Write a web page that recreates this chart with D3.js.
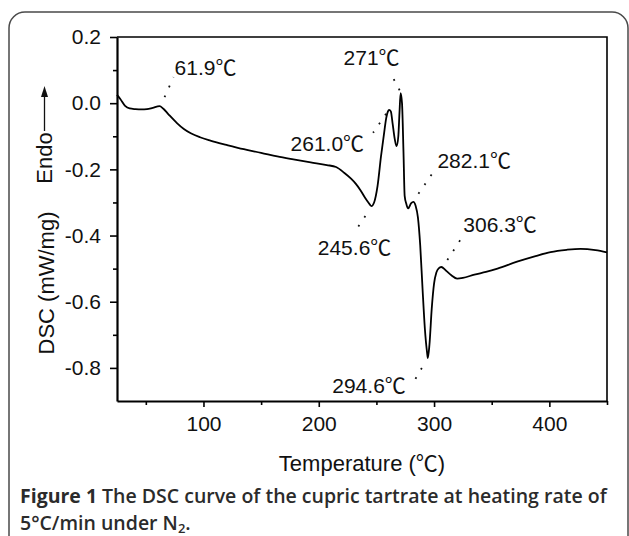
<!DOCTYPE html>
<html>
<head>
<meta charset="utf-8">
<script src="https://cdn.jsdelivr.net/npm/d3@7"></script>
<style>
body { margin: 0; background: #fff; }
svg { display: block; }
</style>
</head>
<body>
<svg id="container" width="629" height="536"></svg>
<script>
// DSC curve: temperature (C) and heat flow (mW/mg)
var temperature = [25, 28, 32, 36, 41, 46, 51, 56, 61.9, 65, 70, 77, 83, 89, 97, 106, 120, 135, 150, 164, 178, 193, 207, 215, 222, 228, 232, 236, 240, 243, 245.6, 248, 251, 254, 256.5, 258.5, 260, 261, 262.5, 264, 266, 267.5, 269, 270, 271, 272.2, 273.5, 274.5, 276, 277.5, 280, 282.1, 284, 286, 288, 290, 292, 294, 294.6, 296, 298, 300, 302, 304, 306.3, 310, 315, 320, 325, 335, 345, 355, 372, 388, 401, 415, 427, 440, 450];
var dscValue = [0.025, 0.012, -0.008, -0.016, -0.018, -0.019, -0.018, -0.014, -0.009, -0.016, -0.035, -0.060, -0.078, -0.091, -0.103, -0.113, -0.126, -0.139, -0.150, -0.161, -0.170, -0.179, -0.187, -0.193, -0.210, -0.228, -0.243, -0.262, -0.285, -0.300, -0.311, -0.300, -0.250, -0.160, -0.095, -0.045, -0.025, -0.020, -0.025, -0.060, -0.110, -0.130, -0.100, -0.030, 0.030, 0.000, -0.150, -0.280, -0.305, -0.318, -0.303, -0.298, -0.310, -0.345, -0.430, -0.560, -0.680, -0.755, -0.770, -0.730, -0.620, -0.545, -0.512, -0.499, -0.495, -0.505, -0.520, -0.530, -0.528, -0.518, -0.510, -0.500, -0.479, -0.462, -0.450, -0.443, -0.440, -0.444, -0.451];

var xMajorTicks = [100, 200, 300, 400];
var xMinorTicks = [50, 150, 250, 350, 450];
var yMajorTicks = [0.2, 0.0, -0.2, -0.4, -0.6, -0.8];
var yMinorTicks = [0.1, -0.1, -0.3, -0.5, -0.7];

// peak annotations
var peakTemps = [61.9, 261.0, 271, 282.1, 245.6, 306.3, 294.6];
var peakTexts = ["61.9℃", "261.0℃", "271℃", "282.1℃", "245.6℃", "306.3℃", "294.6℃"];

function drawChart()
{
    const svg = d3.select('#container');
    const margin = { left: 117, right: 22, top: 37, bottom: 135 };
    const width = 629 - margin.left - margin.right;
    const height = 536 - margin.top - margin.bottom;
    const font = '"Liberation Sans", Arial, "Noto Sans CJK SC", sans-serif';

    // outer rounded frame of the figure panel
    svg.append("rect")
        .attr("x", 9).attr("y", 12).attr("width", 619).attr("height", 540)
        .attr("rx", 16).attr("fill", "none").attr("stroke", "#4a4a4a").attr("stroke-width", 1.5);

    const g = svg.append("g").attr("transform", `translate(${margin.left},${margin.top})`);

    const x = d3.scaleLinear().domain([25, 450]).range([0, width]);
    const y = d3.scaleLinear().domain([-0.9, 0.2]).range([height, 0]);

    // top and right frame
    g.append("path")
        .attr("d", `M0,0H${width}V${height}`)
        .attr("fill", "none").attr("stroke", "#000").attr("stroke-width", 1.6);

    // minor ticks
    g.append("g").attr("transform", `translate(0,${height})`)
        .call(d3.axisBottom(x).tickValues(xMinorTicks).tickSize(4).tickFormat(""))
        .call(a => a.select(".domain").remove())
        .selectAll("line").attr("stroke-width", 1.6);
    g.append("g")
        .call(d3.axisLeft(y).tickValues(yMinorTicks).tickSize(4).tickFormat(""))
        .call(a => a.select(".domain").remove())
        .selectAll("line").attr("stroke-width", 1.6);

    // major axes
    const xAxis = g.append("g").attr("transform", `translate(0,${height})`)
        .call(d3.axisBottom(x).tickValues(xMajorTicks).tickSize(6).tickSizeOuter(0).tickPadding(9));
    const yAxis = g.append("g")
        .call(d3.axisLeft(y).tickValues(yMajorTicks).tickSize(7).tickSizeOuter(0).tickPadding(9)
            .tickFormat(d => d.toFixed(1)));
    [xAxis, yAxis].forEach(a => {
        a.attr("font-family", font).attr("font-size", 21);
        a.selectAll("text").attr("fill", "#111");
        a.selectAll("line").attr("stroke-width", 1.6);
        a.select(".domain").attr("stroke-width", 2.2);
    });

    // curve
    const points = temperature.map((t, i) => [t, dscValue[i]]);
    g.append("path")
        .datum(points)
        .attr("fill", "none").attr("stroke", "#000").attr("stroke-width", 1.8)
        .attr("stroke-linejoin", "round")
        .attr("d", d3.line().x(d => x(d[0])).y(d => y(d[1])).curve(d3.curveMonotoneX));

    // annotation layout: leader start/end and text anchor, as pixel offsets from the peak point
    const layout = [
        { s: [5, -9], e: [14, -29], t: [15, -31], anchor: "start" },
        { s: [-3, 4], e: [-16, 23], t: [-25, 41], anchor: "end" },
        { s: [-1, -3], e: [-10, -20], t: [-1, -28], anchor: "end" },
        { s: [5, -8], e: [20, -30], t: [24, -34], anchor: "start" },
        { s: [-6, 10], e: [-14, 22], t: [20, 49], anchor: "end" },
        { s: [6, -7], e: [19, -27], t: [22, -35], anchor: "start" },
        { s: [-6, 10], e: [-13, 22], t: [-22, 35], anchor: "end" }
    ];
    const ann = g.append("g").attr("font-family", font).attr("font-size", 21).attr("fill", "#111");
    peakTemps.forEach((t, i) => {
        const k = d3.minIndex(temperature, v => Math.abs(v - t));
        const px = x(temperature[k]);
        const py = y(dscValue[k]);
        const L = layout[i];
        ann.append("line")
            .attr("x1", px + L.s[0]).attr("y1", py + L.s[1])
            .attr("x2", px + L.e[0]).attr("y2", py + L.e[1])
            .attr("stroke", "#111").attr("stroke-width", 1.8)
            .attr("stroke-dasharray", "1.8,9");
        ann.append("text")
            .attr("x", px + L.t[0]).attr("y", py + L.t[1])
            .attr("text-anchor", L.anchor)
            .text(peakTexts[i]);
    });

    // axis titles
    svg.append("text")
        .attr("x", 362).attr("y", 471).attr("text-anchor", "middle")
        .attr("font-family", font).attr("font-size", 22).attr("fill", "#111")
        .text("Temperature (℃)");
    svg.append("text")
        .attr("transform", "translate(54,283) rotate(-90)").attr("text-anchor", "middle")
        .attr("font-family", font).attr("font-size", 22).attr("fill", "#111")
        .text("DSC (mW/mg)");
    svg.append("text")
        .attr("transform", "translate(52,158) rotate(-90)").attr("text-anchor", "middle")
        .attr("font-family", font).attr("font-size", 22).attr("fill", "#111")
        .text("Endo");
    svg.append("line")
        .attr("x1", 44.5).attr("y1", 131).attr("x2", 44.5).attr("y2", 95)
        .attr("stroke", "#111").attr("stroke-width", 1.3);
    svg.append("path")
        .attr("d", "M44.5,86 L41,97 L48,97 Z").attr("fill", "#111");

    // caption, built from separate text pieces placed one after another
    function captionPiece(px, py, str, size, weight)
    {
        const node = svg.append("text")
            .attr("x", px).attr("y", py)
            .attr("font-family", '"Open Sans", sans-serif').attr("font-size", size)
            .attr("font-weight", weight).attr("fill", "#2b2b2b")
            .text(str);
        return px + node.node().getComputedTextLength();
    }
    var cx = captionPiece(20, 503, "Figure 1", 19.5, 700);
    captionPiece(cx + 5, 503, "The DSC curve of the cupric tartrate at heating rate of", 19.5, 600);
    cx = captionPiece(20, 530, "5°C/min under N", 19.5, 600);
    cx = captionPiece(cx, 533, "2", 13, 600);
    captionPiece(cx, 530, ".", 19.5, 600);
}

drawChart();
</script>
</body>
</html>
